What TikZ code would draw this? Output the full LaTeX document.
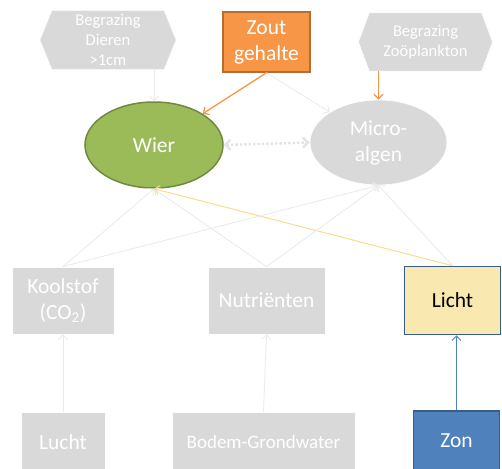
\documentclass[tikz,border=0pt]{standalone}
\usepackage{fontspec}
\setmainfont{Carlito}
\usetikzlibrary{shapes.geometric,arrows.meta,backgrounds}
\definecolor{boxgray}{HTML}{D9D9D9}
\definecolor{faint}{HTML}{EBEBEB}
\definecolor{dotgray}{HTML}{E3E3E3}
\definecolor{wiergreen}{HTML}{9BBB59}
\definecolor{wierdark}{HTML}{71893F}
\definecolor{zoutorange}{HTML}{F79646}
\definecolor{zoutdark}{HTML}{B66D31}
\definecolor{lichtfill}{HTML}{F9E8B0}
\definecolor{lichtline}{HTML}{F9DC8C}
\definecolor{zonblue}{HTML}{4F81BD}
\definecolor{zondark}{HTML}{385D8A}
\tikzset{
  bigtext/.style={font=\fontsize{21.5}{26}\selectfont, align=center},
  smalltext/.style={font=\fontsize{16.5}{20}\selectfont, align=center},
  graybox/.style={rectangle, fill=boxgray, draw=white!95!boxgray, line width=0.8pt, text=white, inner sep=0pt, bigtext},
  grayell/.style={ellipse, fill=boxgray, draw=white!95!boxgray, line width=0.8pt, text=white, inner sep=0pt, bigtext},
  hexnode/.style={rectangle, inner sep=0pt, text=white, smalltext},
  hexshape/.style={fill=boxgray, draw=white!92!boxgray, line width=0.8pt},
  tip/.style={-{Straight Barb[length=4.5pt,width=9pt]}},
  faintarrow/.style={tip, draw=faint, line width=0.9pt},
  orangearrow/.style={tip, draw=zoutorange, line width=1.3pt},
}
\begin{document}
\begin{tikzpicture}[x=1pt,y=-1pt]
\useasboundingbox (0,0) rectangle (502,468);
\clip (0,0) rectangle (502,468);
% hexagon placeholders
\node[hexnode, minimum width=136pt, minimum height=59pt] (dieren) at (108,40) {Begrazing\\Dieren\\>1cm};
\node[hexnode, minimum width=134pt, minimum height=58pt] (zoo) at (425.5,42) {Begrazing\\Zoöplankton};
\begin{scope}[on background layer]
\draw[hexshape] (dieren.west) -- ([xshift=12pt]dieren.north west) -- ([xshift=-12pt]dieren.north east) -- (dieren.east) -- ([xshift=-12pt]dieren.south east) -- ([xshift=12pt]dieren.south west) -- cycle;
\draw[hexshape] (zoo.west) -- ([xshift=11pt]zoo.north west) -- ([xshift=-11pt]zoo.north east) -- (zoo.east) -- ([xshift=-11pt]zoo.south east) -- ([xshift=11pt]zoo.south west) -- cycle;
\end{scope}
% main nodes
\node[rectangle, fill=zoutorange, draw=zoutdark, line width=1.5pt, text=white, inner sep=0pt, bigtext, minimum width=87pt, minimum height=60pt] (zout) at (266.5,42) {Zout\\gehalte};
\node[ellipse, fill=wiergreen, draw=wierdark, line width=1.5pt, text=white, inner sep=0pt, bigtext, minimum width=138pt, minimum height=86pt] (wier) at (154,145) {Wier};
\node[grayell, minimum width=137pt, minimum height=85pt] (micro) at (378.5,142.5) {Micro-\\algen};
\node[graybox, minimum width=102pt, minimum height=67pt] (koolstof) at (63,300.5) {Koolstof\\(CO\textsubscript{2})};
\node[graybox, minimum width=117pt, minimum height=67pt] (nutri) at (266.5,300.5) {Nutriënten};
\node[rectangle, fill=lichtfill, draw=zondark, line width=1.6pt, text=black, inner sep=0pt, bigtext, minimum width=96pt, minimum height=68pt] (licht) at (452.5,300.5) {Licht};
\node[graybox, minimum width=84pt, minimum height=60pt] (lucht) at (63,442) {Lucht};
\node[graybox, minimum width=183pt, minimum height=60pt, font=\fontsize{19}{23}\selectfont] (bodem) at (263.5,442) {Bodem-Grondwater};
\node[rectangle, fill=zonblue, draw=zondark, line width=1.5pt, text=white, inner sep=0pt, bigtext, minimum width=86pt, minimum height=60pt] (zon) at (456.5,441) {Zon};
% connectors
\draw[orangearrow] (zout.south) -- (wier);
\draw[faintarrow] (zout.south) -- (micro);
\draw[faintarrow] (wier.north |- dieren.south) -- (wier.north);
\draw[orangearrow] (micro.north |- zoo.south) -- (micro.north);
\draw[{Straight Barb[length=5pt,width=10pt]}-{Straight Barb[length=5pt,width=10pt]}, draw=dotgray, line width=2.4pt, dotted] (wier.east) -- (micro.west);
\draw[faintarrow] (koolstof.north) -- (wier.south);
\draw[faintarrow] (nutri.north) -- (wier.south);
\draw[tip, draw=lichtline, line width=1pt] (licht.north) -- (wier.south);
\draw[faintarrow] (koolstof.north) -- (micro.south);
\draw[faintarrow] (nutri.north) -- (micro.south);
\draw[faintarrow] (licht.north) -- (micro.south);
\draw[faintarrow] (lucht.north) -- (koolstof.south);
\draw[faintarrow] (bodem.north) -- (nutri.south);
\draw[tip, draw=zonblue, line width=1pt] (zon.north) -- (zon.north |- licht.south);
\end{tikzpicture}
\end{document}
